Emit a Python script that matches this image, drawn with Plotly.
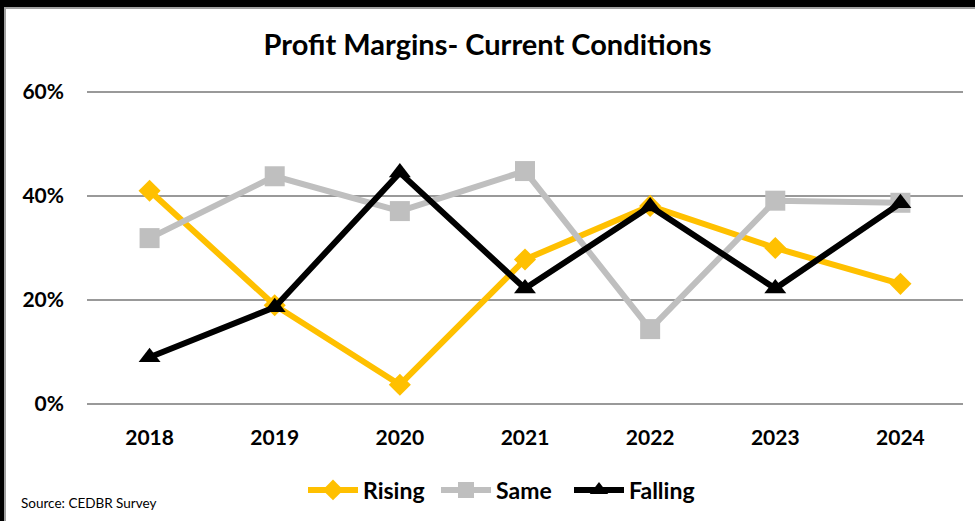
import plotly.graph_objects as go

years = ["2018", "2019", "2020", "2021", "2022", "2023", "2024"]
rising = [0.41, 0.19, 0.037, 0.278, 0.381, 0.300, 0.231]
same = [0.319, 0.438, 0.371, 0.448, 0.144, 0.391, 0.387]
falling = [0.090, 0.186, 0.445, 0.222, 0.380, 0.222, 0.386]

W, H = 975, 521
L, R, T, B = 87, 12, 91, 116
pw, ph = W - L - R, H - T - B


def px(x):
    return (x - L) / pw


def py(y):
    return (H - B - y) / ph


fig = go.Figure()
fig.add_trace(go.Scatter(x=years, y=rising, name="Rising", mode="lines+markers",
                         line=dict(color="#FFC000", width=6),
                         marker=dict(symbol="diamond", size=17, color="#FFC000")))
fig.add_trace(go.Scatter(x=years, y=same, name="Same", mode="lines+markers",
                         line=dict(color="#BFBFBF", width=6),
                         marker=dict(symbol="square", size=20, color="#BFBFBF")))
fig.add_trace(go.Scatter(x=years, y=falling, name="Falling", mode="lines+markers",
                         line=dict(color="#000000", width=6),
                         marker=dict(symbol="triangle-up", size=19, color="#000000")))

font_main = "Lato"
fig.update_layout(
    width=W, height=H,
    margin=dict(l=L, r=R, t=T, b=B),
    paper_bgcolor="white", plot_bgcolor="white",
    title=dict(text="<b>Profit Margins- Current Conditions</b>", x=0.5, xanchor="center",
               y=1 - 45 / H, yanchor="middle",
               font=dict(family=font_main, size=29, color="black")),
    xaxis=dict(type="category", range=[-0.5, 6.5], showgrid=False, zeroline=False,
               showline=False, ticks="", ticklabelstandoff=18,
               tickfont=dict(family=font_main, size=21, color="black", weight="bold")),
    yaxis=dict(range=[-0.002, 0.602], tickvals=[0, 0.2, 0.4, 0.6], tickformat=".0%",
               showgrid=True, gridcolor="#999999", gridwidth=1.5, zeroline=False,
               showline=False, ticks="", ticklabelstandoff=22,
               tickfont=dict(family=font_main, size=21, color="black", weight="bold")),
    legend=dict(orientation="h", xref="container", x=303 / W, xanchor="left",
                yref="container", y=1 - 490 / H, yanchor="middle",
                font=dict(family=font_main, size=23, color="black", weight="bold"),
                itemwidth=50, entrywidth=68, entrywidthmode="pixels",
                tracegroupgap=0, bgcolor="rgba(0,0,0,0)"),
    showlegend=True,
)

shapes = [
    dict(type="rect", xref="paper", yref="paper", x0=px(0), x1=px(W), y0=py(0), y1=py(7),
         fillcolor="black", line=dict(width=0), layer="above"),
    dict(type="rect", xref="paper", yref="paper", x0=px(0), x1=px(4), y0=py(0), y1=py(H),
         fillcolor="black", line=dict(width=0), layer="above"),
    dict(type="rect", xref="paper", yref="paper", x0=px(4), x1=px(W), y0=py(7), y1=py(9),
         fillcolor="#A0A0A0", line=dict(width=0), layer="above"),
    dict(type="rect", xref="paper", yref="paper", x0=px(4), x1=px(6), y0=py(7), y1=py(H),
         fillcolor="#A0A0A0", line=dict(width=0), layer="above"),
]
fig.update_layout(shapes=shapes)

fig.add_annotation(text="Source: CEDBR Survey", xref="paper", yref="paper",
                   x=px(19), y=py(503), xanchor="left", yanchor="middle", showarrow=False,
                   font=dict(family=font_main, size=13.5, color="black"))

fig.write_html("out.html", config={"displayModeBar": False},
               post_script="document.body.style.margin='0';")
